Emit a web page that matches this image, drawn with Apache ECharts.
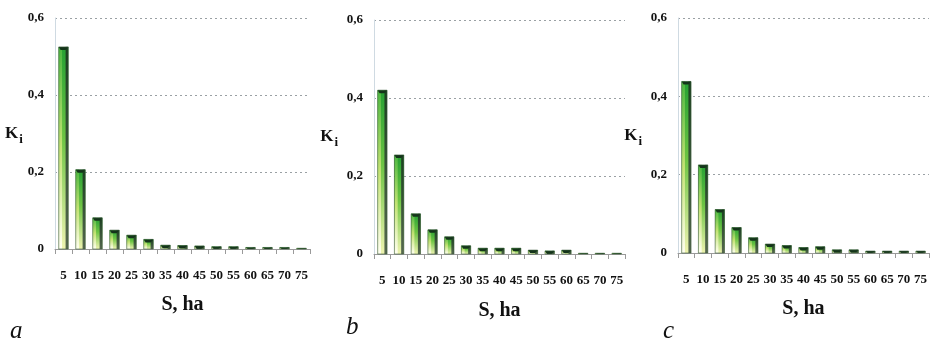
<!DOCTYPE html>
<html>
<head>
<meta charset="utf-8">
<script src="https://cdn.jsdelivr.net/npm/echarts@6/dist/echarts.min.js"></script>
<style>
  html, body { margin: 0; padding: 0; background: #fff; }
  #chart { width: 930px; height: 340px; }
</style>
</head>
<body>
<div id="chart"></div>
<script>
// Plot area sizes S (ha) and coefficient K_i for three cases a, b, c
const areas = ['5', '10', '15', '20', '25', '30', '35', '40', '45', '50', '55', '60', '65', '70', '75'];
const kA = [0.525, 0.206, 0.081, 0.049, 0.036, 0.025, 0.010, 0.009, 0.008, 0.006, 0.006, 0.004, 0.004, 0.004, 0.002];
const kB = [0.420, 0.254, 0.103, 0.062, 0.044, 0.021, 0.015, 0.015, 0.015, 0.010, 0.008, 0.010, 0.002, 0.002, 0.002];
const kC = [0.438, 0.225, 0.111, 0.065, 0.039, 0.023, 0.019, 0.014, 0.016, 0.008, 0.008, 0.005, 0.005, 0.005, 0.005];
const panelLetters = ['a', 'b', 'c'];
const yMax = 0.6;
const yStep = 0.2;

const serif = 'Times New Roman, Liberation Serif, DejaVu Serif, serif';

const grids = [
  { left: 55,  top: 18, width: 255, height: 231 },
  { left: 374, top: 20, width: 251, height: 234 },
  { left: 678, top: 18, width: 254, height: 235 }
];

// Bevelled "3D" column drawn from the axis scales
function renderBar(params, api) {
  const idx = api.value(0);
  const val = api.value(1);
  const top = api.coord([idx, val]);
  const base = api.coord([idx, 0]);
  const band = api.size([1, 0])[0];
  const w = band * 0.56;
  const x0 = top[0] - w / 2;
  const y0 = top[1];
  const h = Math.max(base[1] - top[1], 0.8);
  const cap = Math.min(3, h);
  const vgrad = (stops) => new echarts.graphic.LinearGradient(0, 0, 0, 1, stops);
  return {
    type: 'group',
    children: [
      { type: 'rect', shape: { x: x0, y: y0, width: w, height: h },
        style: { fill: vgrad([{ offset: 0, color: '#25a033' }, { offset: 0.45, color: '#6cc443' }, { offset: 1, color: '#eef3b0' }]) } },
      { type: 'rect', shape: { x: x0, y: y0, width: w * 0.35, height: h },
        style: { fill: vgrad([{ offset: 0, color: '#4cb840' }, { offset: 0.5, color: '#c4e374' }, { offset: 1, color: '#fffff0' }]) } },
      { type: 'rect', shape: { x: x0 + w * 0.72, y: y0, width: w * 0.28, height: h },
        style: { fill: vgrad([{ offset: 0, color: '#1b4020' }, { offset: 1, color: '#56684f' }]) } },
      { type: 'polygon', shape: { points: [[x0, y0], [x0 + w, y0], [x0 + w * 0.72, y0 + cap], [x0 + w * 0.2, y0 + cap]] },
        style: { fill: '#14341a' } },
      { type: 'rect', shape: { x: x0, y: y0, width: w, height: h },
        style: { fill: 'none', stroke: '#3b5a3a', lineWidth: 0.6 } }
    ]
  };
}

const datasets = [kA, kB, kC];
const yNameGaps = [32, 36, 36];
const xNameGaps = [46, 47, 46];

const option = {
  animation: false,
  backgroundColor: '#ffffff',
  grid: grids,
  xAxis: grids.map((g, i) => ({
    type: 'category',
    gridIndex: i,
    data: areas,
    name: 'S, ha',
    nameLocation: 'middle',
    nameGap: xNameGaps[i],
    nameTextStyle: { fontFamily: serif, fontWeight: 'bold', fontSize: 20, color: '#111' },
    axisLine: { show: true, lineStyle: { color: '#9a9a9a', width: 1 } },
    axisTick: { show: true, alignWithLabel: false, length: 5, lineStyle: { color: '#9a9a9a' } },
    axisLabel: { fontFamily: serif, fontWeight: 'bold', fontSize: 13, color: '#111', margin: 20, interval: 0 }
  })),
  yAxis: grids.map((g, i) => ({
    type: 'value',
    gridIndex: i,
    min: 0,
    max: yMax,
    interval: yStep,
    name: '{k|K}{s|i}',
    nameLocation: 'middle',
    nameRotate: 0,
    nameGap: yNameGaps[i],
    nameTextStyle: {
      rich: {
        k: { fontFamily: serif, fontWeight: 'bold', fontSize: 17, color: '#111' },
        s: { fontFamily: serif, fontWeight: 'bold', fontSize: 13, color: '#111', padding: [12, 0, 0, 1] }
      }
    },
    axisLine: { show: true, lineStyle: { color: '#cfdae2', width: 1 } },
    axisTick: { show: false },
    axisLabel: {
      fontFamily: serif, fontWeight: 'bold', fontSize: 13, color: '#111', margin: 11,
      formatter: (v) => (v === 0 ? '0' : v.toFixed(1).replace('.', ','))
    },
    splitLine: { show: true, lineStyle: { color: '#9aa0a4', type: [2, 3], width: 1 } }
  })),
  series: datasets.map((vals, i) => ({
    type: 'custom',
    xAxisIndex: i,
    yAxisIndex: i,
    renderItem: renderBar,
    encode: { x: 0, y: 1 },
    data: vals.map((v, j) => [j, v]),
    z: 3
  })),
  graphic: [
    { type: 'text', left: 10,  top: 319, style: { text: panelLetters[0], font: 'italic 25px ' + serif, fill: '#111' } },
    { type: 'text', left: 346, top: 315, style: { text: panelLetters[1], font: 'italic 25px ' + serif, fill: '#111' } },
    { type: 'text', left: 663, top: 319, style: { text: panelLetters[2], font: 'italic 25px ' + serif, fill: '#111' } }
  ]
};

const chart = echarts.init(document.getElementById('chart'), null, { renderer: 'canvas' });
chart.setOption(option);
</script>
</body>
</html>
